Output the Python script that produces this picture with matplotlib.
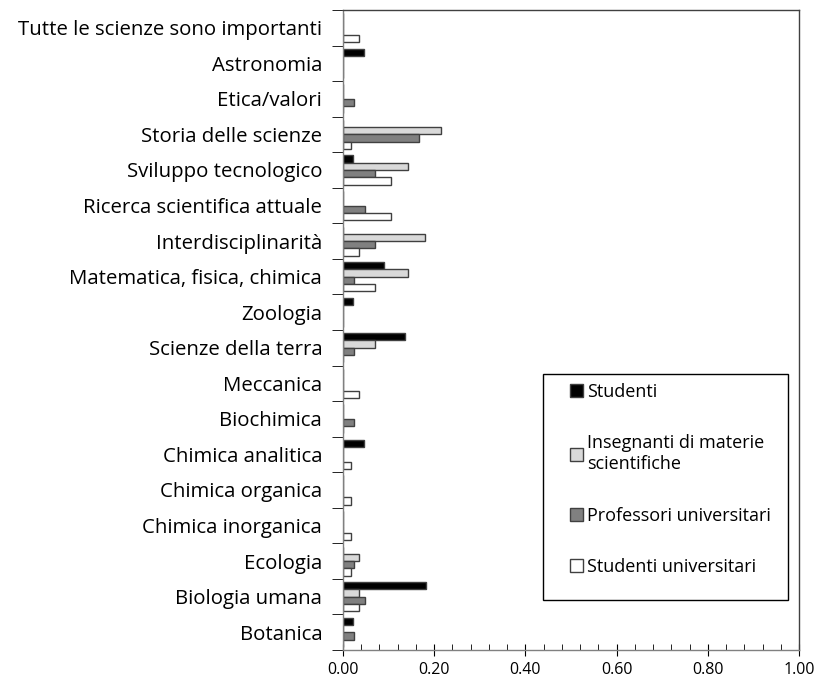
import numpy as np
import matplotlib
matplotlib.use('Agg')
import matplotlib.pyplot as plt
from matplotlib.patches import Rectangle
from matplotlib.container import BarContainer
from matplotlib.legend_handler import HandlerPatch, update_from_first_child
from matplotlib.ticker import MultipleLocator

plt.rcParams['font.family'] = ['Open Sans', 'DejaVu Sans']

# categorie dal basso verso l'alto
categorie = ['Botanica', 'Biologia umana', 'Ecologia', 'Chimica inorganica', 'Chimica organica',
             'Chimica analitica', 'Biochimica', 'Meccanica', 'Scienze della terra', 'Zoologia',
             'Matematica, fisica, chimica', 'Interdisciplinarità', 'Ricerca scientifica attuale',
             'Sviluppo tecnologico', 'Storia delle scienze', 'Etica/valori', 'Astronomia',
             'Tutte le scienze sono importanti']

studenti = [0.023, 0.182, 0, 0, 0, 0.045, 0, 0, 0.136, 0.023, 0.091, 0, 0, 0.023, 0, 0, 0.045, 0]
insegnanti = [0, 0.036, 0.036, 0, 0, 0, 0, 0, 0.071, 0, 0.143, 0.179, 0, 0.143, 0.214, 0, 0, 0]
professori = [0.024, 0.048, 0.024, 0, 0, 0, 0.024, 0, 0.024, 0, 0.024, 0.071, 0.048, 0.071, 0.167, 0.024, 0, 0]
studenti_univ = [0, 0.035, 0.018, 0.018, 0.018, 0.018, 0, 0.035, 0, 0, 0.070, 0.035, 0.105, 0.105, 0.018, 0, 0, 0.035]

xticks = [0.0, 0.2, 0.4, 0.6, 0.8, 1.0]

serie = [('Studenti', studenti, 'black'),
         ('Insegnanti di materie\nscientifiche', insegnanti, '#d9d9d9'),
         ('Professori universitari', professori, '#808080'),
         ('Studenti universitari', studenti_univ, 'white')]

fig = plt.figure(figsize=(8.23, 6.86), dpi=100)
ax = fig.add_axes([343 / 823, 36 / 686, 456 / 823, 640 / 686])

y = np.arange(len(categorie))
h = 0.205
for k, (nome, valori, colore) in enumerate(serie):
    ax.barh(y + (1.5 - k) * h, valori, height=h, color=colore, edgecolor='#404040',
            linewidth=1.0, label=nome)

ax.set_xticks(xticks)
ax.set_xticklabels(['%.2f' % v for v in xticks])
ax.xaxis.set_minor_locator(MultipleLocator(0.04))
ax.set_xlim(0, 1.0)
ax.set_ylim(-0.5, len(categorie) - 0.5)
ax.tick_params(axis='x', which='major', direction='inout', length=9, labelsize=11.5, pad=4)
ax.tick_params(axis='x', which='minor', direction='in', length=4)

ax.set_yticks(y)
ax.set_yticklabels(categorie, fontsize=14.7)
ax.tick_params(axis='y', which='major', length=0, pad=15)
ax.set_yticks(np.arange(len(categorie) + 1) - 0.5, minor=True)
ax.tick_params(axis='y', which='minor', direction='out', length=8)

for s in ax.spines.values():
    s.set_color('#404040')
    s.set_linewidth(1.0)
ax.spines['left'].set_color('#808080')
ax.spines['bottom'].set_color('#808080')

# riquadro della legenda
lx0, lx1 = 200 / 456, 445 / 456
ly0, ly1 = 50 / 640, 276 / 640
ax.add_patch(Rectangle((lx0, ly0), lx1 - lx0, ly1 - ly0, transform=ax.transAxes,
                       facecolor='white', edgecolor='black', linewidth=1.0, zorder=5))


def quadratino(legend, orig_handle, xdescent, ydescent, width, height, fontsize):
    lato = height
    return Rectangle((-xdescent + width - lato, -ydescent), lato, lato)


leg = ax.legend(loc='upper left', bbox_to_anchor=(lx0, ly1), fontsize=13, frameon=False,
                borderpad=0.5, labelspacing=1.85, handlelength=1.72, handleheight=0.7,
                handletextpad=0.2, borderaxespad=0,
                handler_map={BarContainer: HandlerPatch(patch_func=quadratino,
                                                        update_func=update_from_first_child)})
leg.set_zorder(6)

fig.savefig('out.png', dpi=100)
